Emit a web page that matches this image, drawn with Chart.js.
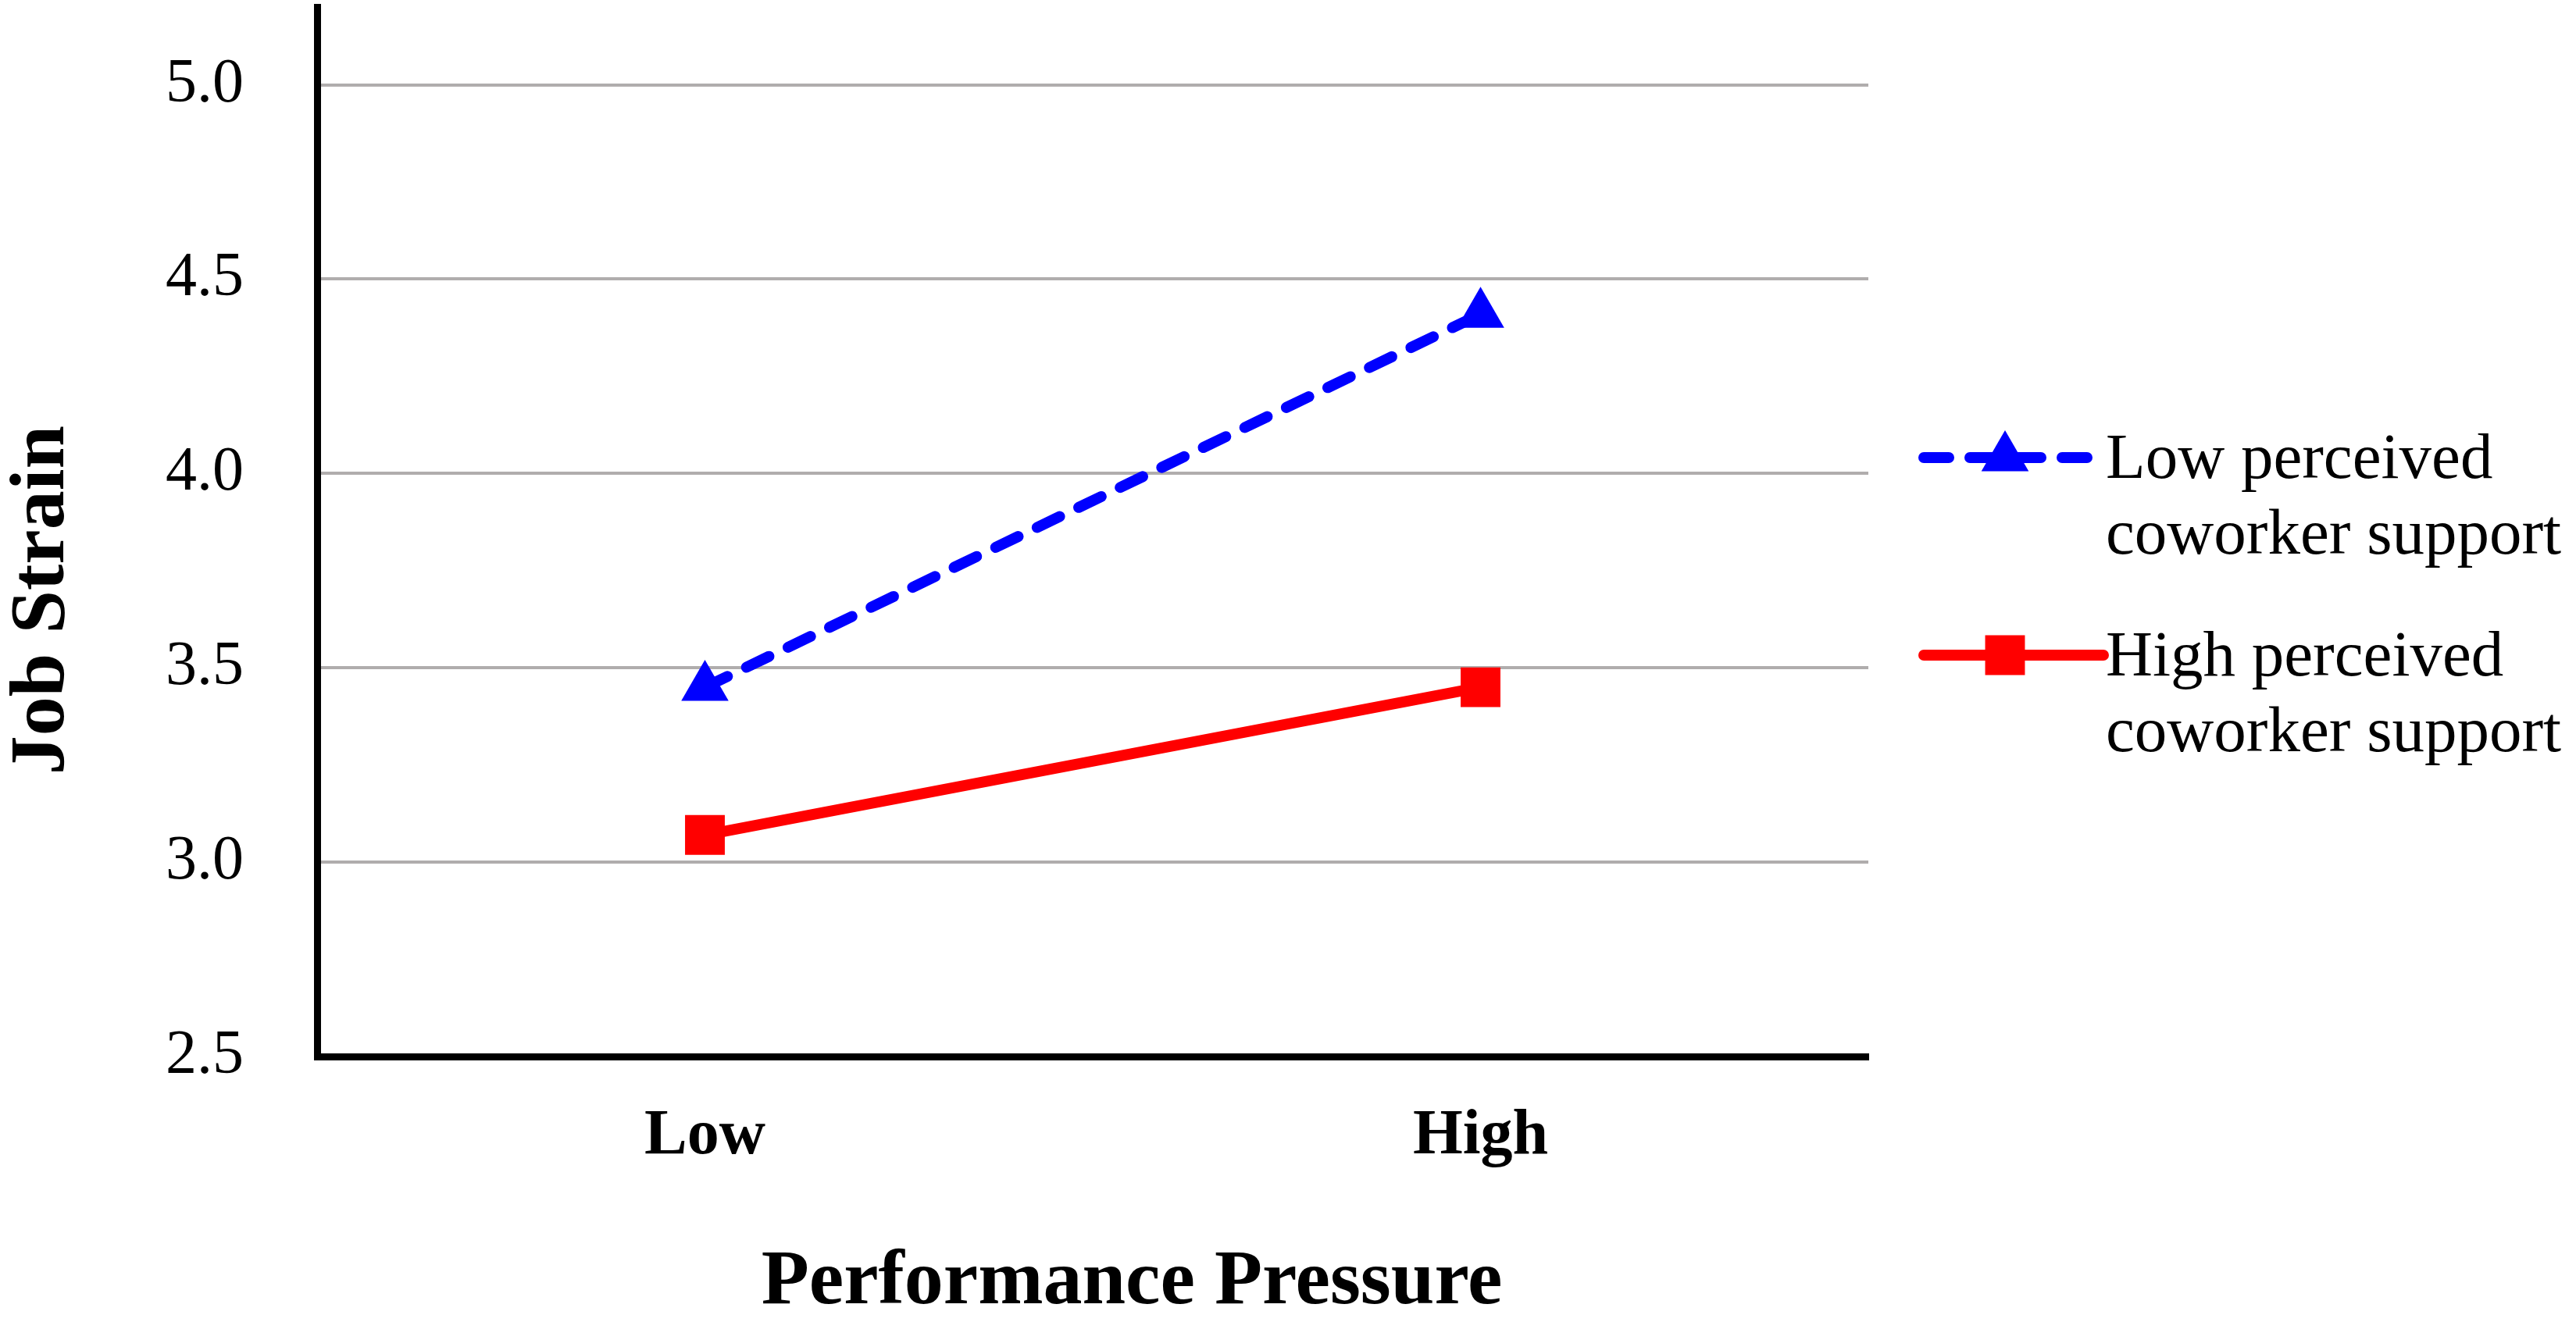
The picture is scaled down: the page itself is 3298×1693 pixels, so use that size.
<!DOCTYPE html>
<html>
<head>
<meta charset="utf-8">
<script src="https://cdn.jsdelivr.net/npm/chart.js@4/dist/chart.umd.min.js"></script>
<style>
  html, body { margin: 0; padding: 0; background: #fff; }
  #wrap { width: 3298px; height: 1693px; position: relative; }
</style>
</head>
<body>
<div id="wrap"><canvas id="strainChart"></canvas></div>
<script>
const ctx = document.getElementById("strainChart");

// x categories
const pressureLevels = ["Low", "High"];

// job strain per support group
const lowSupportStrain = [3.45, 4.41];
const highSupportStrain = [3.07, 3.45];

const seriesNames = [
    ["Low perceived", "coworker support"],
    ["High perceived", "coworker support"]
];

// y axis ticks
const strainTicks = [2.5, 3.0, 3.5, 4.0, 4.5, 5.0];

const serif = "'Liberation Serif', 'Times New Roman', serif";

// legend drawn on the right, two lines of text per entry
const sideLegend = {
    id: "sideLegend",
    afterDraw(chart) {
        const c = chart.ctx;
        const area = chart.chartArea;
        const x0 = area.right + 71;
        const x1 = area.right + 301;
        const xm = area.right + 175;
        chart.data.datasets.forEach((ds, i) => {
            const y = 586 + i * 253;
            c.save();
            c.strokeStyle = ds.borderColor;
            c.lineWidth = ds.borderWidth;
            c.lineCap = "round";
            c.setLineDash(ds.borderDash || []);
            c.beginPath();
            c.moveTo(x0, y);
            c.lineTo(x1, y);
            c.stroke();
            c.setLineDash([]);
            c.fillStyle = ds.pointBackgroundColor;
            Chart.helpers.drawPoint(c, {
                pointStyle: ds.pointStyle,
                radius: ds.pointRadius,
                borderWidth: 0,
                rotation: 0
            }, xm, y);
            c.fillStyle = "#000";
            c.font = "83px " + serif;
            c.textAlign = "left";
            c.textBaseline = "alphabetic";
            ds.legendLines.forEach((t, k) => {
                c.fillText(t, area.right + 304, y + 26 + k * 97);
            });
            c.restore();
        });
    }
};

new Chart(ctx, {

    type: "line",

    data: {
        labels: pressureLevels,
        datasets: [
            {
                label: seriesNames[0].join(" "),
                legendLines: seriesNames[0],
                data: lowSupportStrain,
                borderColor: "#0000ff",
                backgroundColor: "#0000ff",
                pointBackgroundColor: "#0000ff",
                borderWidth: 14,
                borderDash: [32, 27],
                borderCapStyle: "round",
                pointStyle: "triangle",
                pointRadius: 35,
                pointBorderWidth: 0,
                tension: 0
            },
            {
                label: seriesNames[1].join(" "),
                legendLines: seriesNames[1],
                data: highSupportStrain,
                borderColor: "#ff0000",
                backgroundColor: "#ff0000",
                pointBackgroundColor: "#ff0000",
                borderWidth: 14,
                borderCapStyle: "round",
                pointStyle: "rect",
                pointRadius: 36,
                pointBorderWidth: 0,
                tension: 0
            }
        ]
    },

    options: {
        responsive: true,
        maintainAspectRatio: false,
        animation: false,
        devicePixelRatio: 1,

        layout: {
            autoPadding: false,
            padding: { top: 9, right: 906, left: 0, bottom: 0 }
        },

        plugins: {
            legend: { display: false },
            tooltip: { enabled: false }
        },

        scales: {

            x: { // performance pressure
                offset: true,
                grid: { display: false, drawTicks: false },
                border: { display: true, color: "#000", width: 9 },
                ticks: {
                    color: "#000",
                    padding: 54,
                    font: { family: serif, size: 82, weight: "bold" }
                },
                title: {
                    display: true,
                    text: "\u00a0".repeat(4) + "Performance Pressure",
                    color: "#000",
                    padding: { top: 0, bottom: 0 },
                    font: { family: serif, size: 100, weight: "bold", lineHeight: 1.0 }
                },
                afterFit(s) {
                    s.height = 340;
                    s.paddingLeft = 0;
                    s.paddingRight = 0;
                }
            },

            y: { // job strain
                min: 2.5,
                max: 5.2,
                grid: {
                    drawTicks: false,
                    lineWidth: 4,
                    color: c => (c.tick && c.tick.value === 2.5) ? "rgba(0,0,0,0)" : "#b0adad"
                },
                border: { display: true, color: "#000", width: 9 },
                afterBuildTicks(s) {
                    s.ticks = strainTicks.map(v => ({ value: v }));
                },
                ticks: {
                    color: "#000",
                    padding: 94,
                    font: { family: serif, size: 80 },
                    callback: v => Number(v).toFixed(1)
                },
                title: {
                    display: true,
                    text: "Job Strain" + "\u00a0".repeat(7),
                    color: "#000",
                    padding: { top: 2, bottom: 0 },
                    font: { family: serif, size: 100, weight: "bold", lineHeight: 1.06 }
                },
                afterFit(s) {
                    s.width = 406;
                    s.paddingTop = 0;
                    s.paddingBottom = 0;
                }
            }
        }
    },

    plugins: [sideLegend]
});
</script>
</body>
</html>
